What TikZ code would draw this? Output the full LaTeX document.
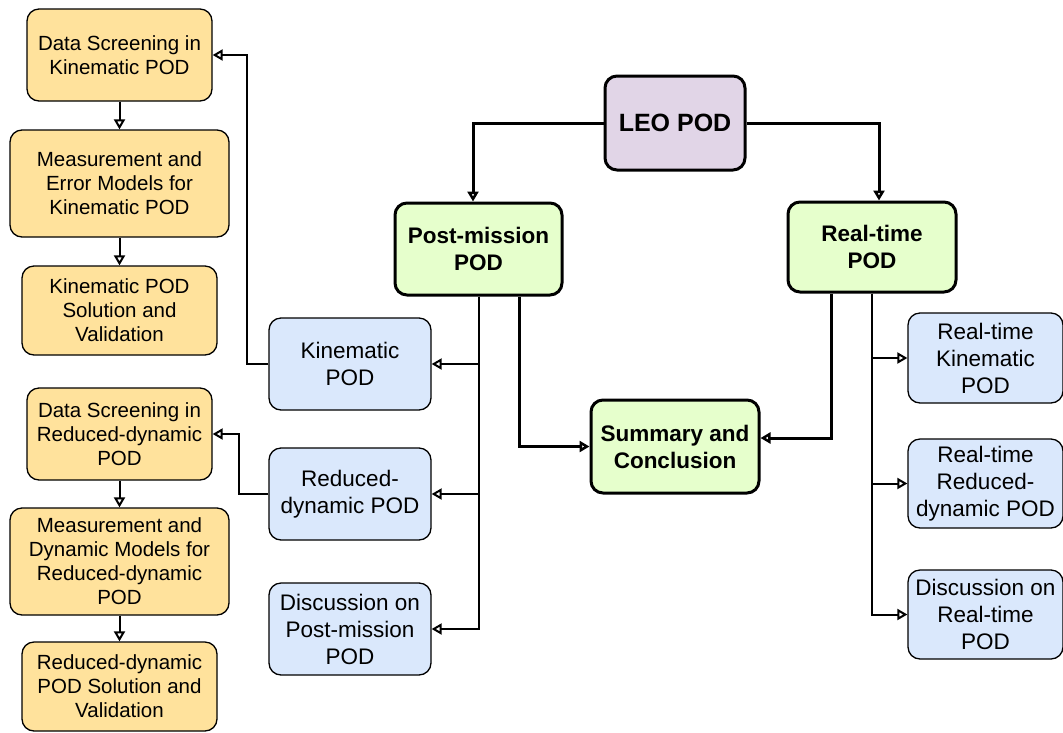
\documentclass[tikz,border=0pt]{standalone}
\usepackage{fontspec}
\setmainfont{Liberation Sans}
\usetikzlibrary{arrows.meta}
\definecolor{ylw}{HTML}{FFE29C}
\definecolor{blu}{HTML}{DAE8FC}
\definecolor{grn}{HTML}{E6FFCC}
\definecolor{prp}{HTML}{E1D5E7}
\tikzset{
  box/.style={rectangle, rounded corners=12pt, align=center, inner sep=0pt},
  ybox/.style={box, fill=ylw, draw=black, line width=1.3pt,
    font=\fontsize{20.5}{24}\selectfont},
  bbox/.style={box, fill=blu, draw=black, line width=1.3pt,
    font=\fontsize{22.5}{27}\selectfont},
  gbox/.style={box, fill=grn, draw=black, line width=3pt,
    font=\fontsize{22.5}{27}\selectfont\bfseries},
  pbox/.style={box, fill=prp, draw=black, line width=3pt,
    font=\fontsize{25}{29}\selectfont\bfseries},
  tip/.style={-{Triangle[open, length=10pt, width=11pt, fill=white]}},
  link/.style={tip, line width=2pt},
  mainlink/.style={tip, line width=3pt},
}
\begin{document}
\begin{tikzpicture}[x=1pt, y=-1pt]
\useasboundingbox (0,0) rectangle (1063,732);

% left column: kinematic chain
\node[ybox, minimum width=185, minimum height=92] (y1) at (119.5,55) {Data Screening in\\Kinematic POD};
\node[ybox, minimum width=219, minimum height=107] (y2) at (119.5,183.5) {Measurement and\\Error Models for\\Kinematic POD};
\node[ybox, minimum width=195, minimum height=89] (y3) at (119.5,310.5) {Kinematic POD\\Solution and\\Validation};
% left column: reduced-dynamic chain
\node[ybox, minimum width=185, minimum height=92] (y4) at (119.5,434) {Data Screening in\\Reduced-dynamic\\POD};
\node[ybox, minimum width=219, minimum height=107] (y5) at (119.5,561.5) {Measurement and\\Dynamic Models for\\Reduced-dynamic\\POD};
\node[ybox, minimum width=195, minimum height=89] (y6) at (119.5,686.5) {Reduced-dynamic\\POD Solution and\\Validation};

% post-mission branch
\node[bbox, minimum width=162, minimum height=92] (kin) at (350,364) {Kinematic\\POD};
\node[bbox, minimum width=162, minimum height=92] (red) at (350,494) {Reduced-\\dynamic POD};
\node[bbox, minimum width=162, minimum height=92] (dpm) at (350,629) {Discussion on\\Post-mission\\POD};

% top level
\node[pbox, minimum width=140, minimum height=94] (leo) at (675,123) {LEO POD};
\node[gbox, minimum width=167, minimum height=92] (pm) at (478.5,249) {Post-mission\\POD};
\node[gbox, minimum width=168, minimum height=90] (rt) at (872,247) {Real-time\\POD};
\node[gbox, minimum width=168, minimum height=93] (sum) at (675,446.5) {Summary and\\Conclusion};

% real-time branch
\node[bbox, minimum width=155, minimum height=90] (rtk) at (985.5,358) {Real-time\\Kinematic\\POD};
\node[bbox, minimum width=155, minimum height=89] (rtr) at (985.5,483.5) {Real-time\\Reduced-\\dynamic POD};
\node[bbox, minimum width=155, minimum height=89] (rtd) at (985.5,614.5) {Discussion on\\Real-time\\POD};

% connectors
\draw[mainlink] (leo.west) -| ([xshift=-5.5pt]pm.north);
\draw[mainlink] (leo.east) -| ([xshift=7pt]rt.north);
\draw[mainlink] ([xshift=40.5pt]pm.south) |- (sum.west);
\draw[mainlink] ([xshift=-41pt]rt.south) |- ([yshift=8.5pt]sum.east);

\draw[link] (pm.south) |- (kin.east);
\draw[link] (pm.south) |- (red.east);
\draw[link] (pm.south) |- (dpm.east);

\draw[link] (rt.south) |- (rtk.west);
\draw[link] (rt.south) |- (rtr.west);
\draw[link] (rt.south) |- (rtd.west);

\draw[link] (kin.west) -- ++(-21,0) |- (y1.east);
\draw[link] (red.west) -- ++(-29,0) |- (y4.east);

\draw[link] (y1) -- (y2);
\draw[link] (y2) -- (y3);
\draw[link] (y4) -- (y5);
\draw[link] (y5) -- (y6);
\end{tikzpicture}
\end{document}
